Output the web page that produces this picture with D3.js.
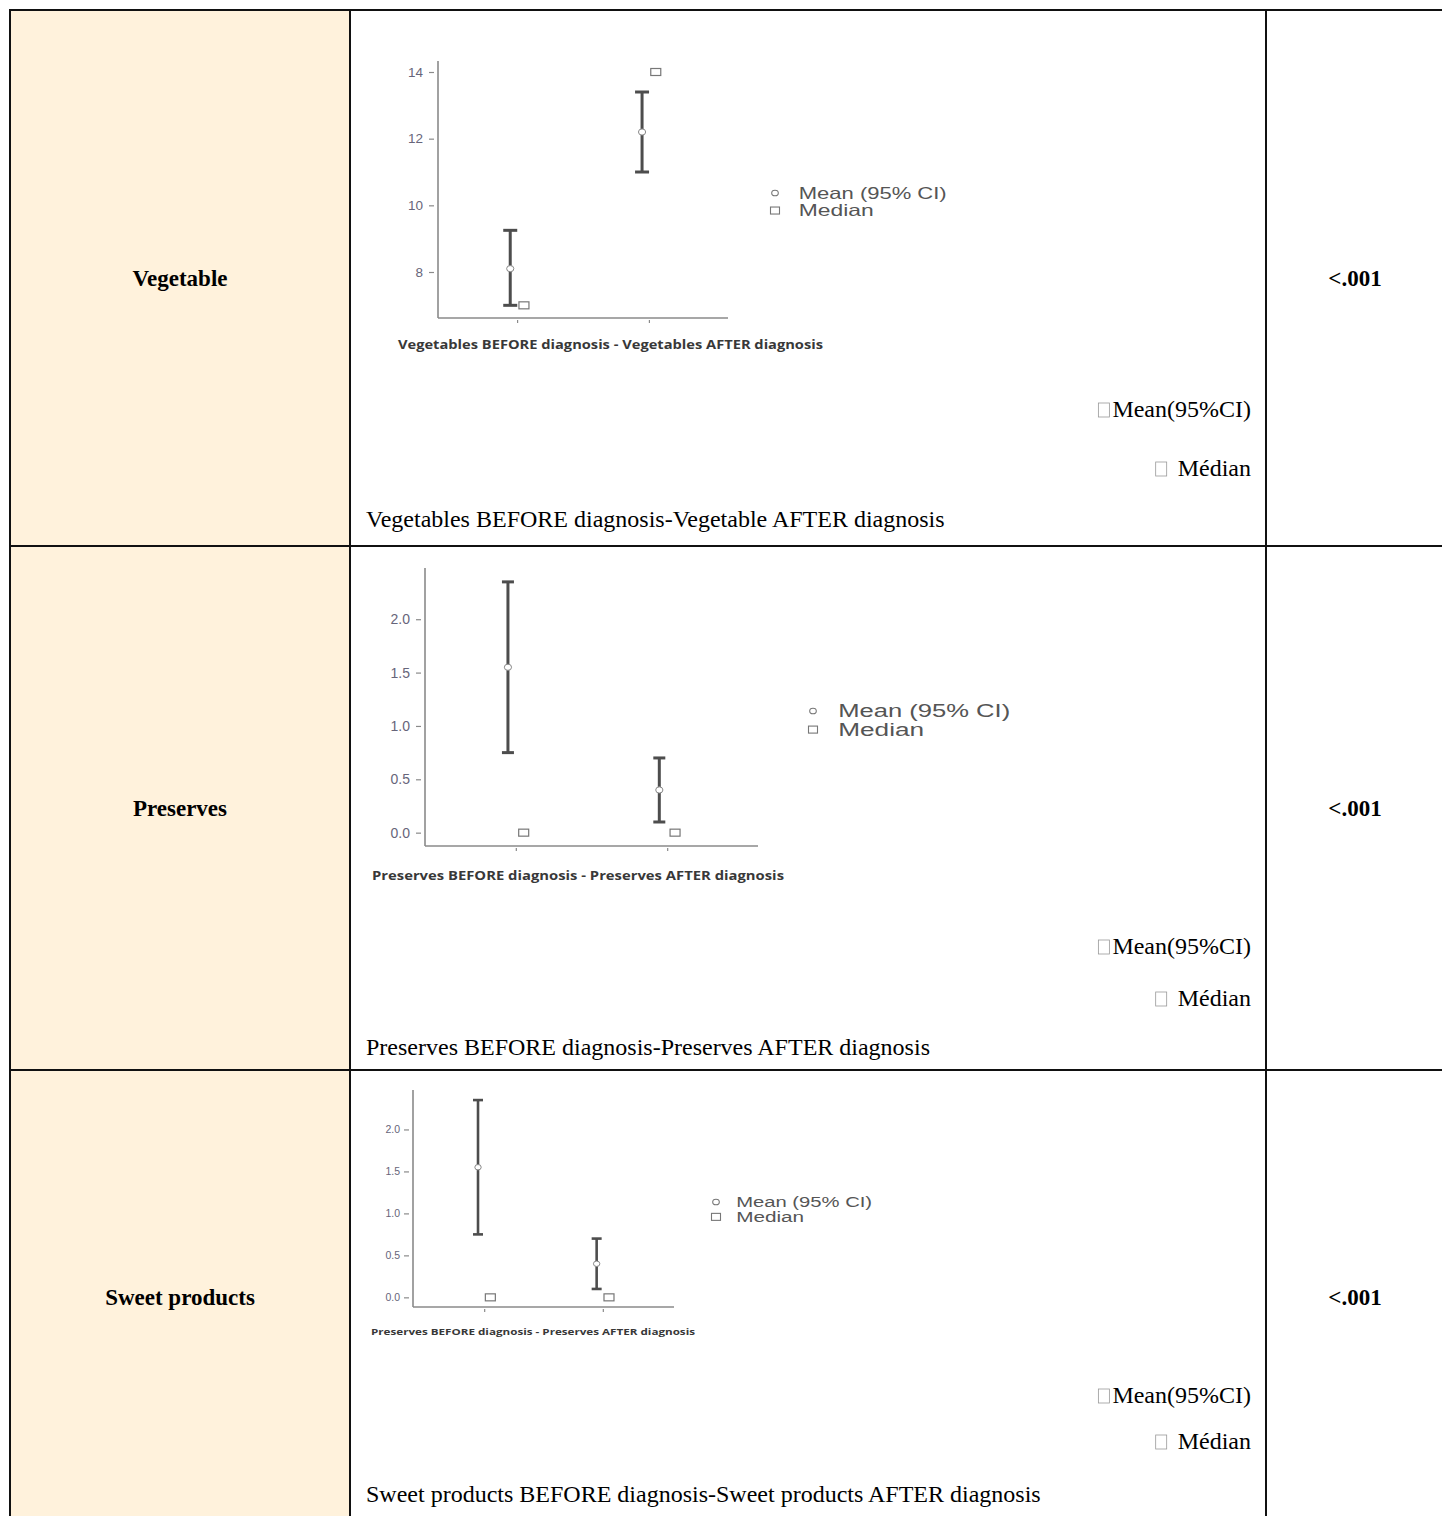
<!DOCTYPE html>
<html><head><meta charset="utf-8">
<script src="https://cdn.jsdelivr.net/npm/d3@7/dist/d3.min.js"></script>
<style>html,body{margin:0;padding:0;background:#fff;}svg{display:block;}</style>
</head><body>
<script>
// ---------- DATA ----------
const categories = ["Vegetable", "Preserves", "Sweet products"];
const pValues = ["<.001", "<.001", "<.001"];
const groups = ["BEFORE diagnosis", "AFTER diagnosis"];

const vegMean = [8.1, 12.2];
const vegLow = [7.0, 11.0];
const vegHigh = [9.25, 13.4];
const vegMedian = [7.0, 14.0];
const vegTicks = [8, 10, 12, 14];

const presMean = [1.55, 0.40];
const presLow = [0.75, 0.10];
const presHigh = [2.35, 0.70];
const presMedian = [0.0, 0.0];
const presTicks = [0, 0.5, 1.0, 1.5, 2.0];

const sweetMean = [1.55, 0.40];
const sweetLow = [0.75, 0.10];
const sweetHigh = [2.35, 0.70];
const sweetMedian = [0.0, 0.0];
const sweetTicks = [0, 0.5, 1.0, 1.5, 2.0];

const chartAxisTitles = [
  "Vegetables BEFORE diagnosis - Vegetables AFTER diagnosis",
  "Preserves BEFORE diagnosis - Preserves AFTER diagnosis",
  "Preserves BEFORE diagnosis - Preserves AFTER diagnosis"
];
const legendLabels = ["Mean (95% CI)", "Median"];
const cellLegend = ["Mean(95%CI)", "Médian"];
const captions = [
  "Vegetables BEFORE diagnosis-Vegetable AFTER diagnosis",
  "Preserves BEFORE diagnosis-Preserves AFTER diagnosis",
  "Sweet products BEFORE diagnosis-Sweet products AFTER diagnosis"
];

// ---------- LAYOUT ----------
const W = 1442, H = 1516;
const svg = d3.select("body").append("svg").attr("width", W).attr("height", H);
svg.append("rect").attr("width", W).attr("height", H).attr("fill", "#fff");

const colX = [10, 350, 1266, W];
const rowY = [10, 546, 1070, H];

svg.append("rect").attr("x", colX[0]).attr("y", rowY[0]).attr("width", colX[1] - colX[0])
  .attr("height", H - rowY[0]).attr("fill", "#fff2dc");

const grid = svg.append("g").attr("stroke", "#111").attr("stroke-width", 2);
[rowY[0], rowY[1], rowY[2]].forEach(y => grid.append("line").attr("x1", 9).attr("x2", W).attr("y1", y).attr("y2", y));
[colX[0], colX[1], colX[2]].forEach(x => grid.append("line").attr("x1", x).attr("x2", x).attr("y1", 9).attr("y2", H));

const serif = "Liberation Serif, Times New Roman, serif";
const labelBase = [286, 816, 1305];
categories.forEach((c, i) => {
  svg.append("text").attr("x", 180).attr("y", labelBase[i]).attr("text-anchor", "middle")
    .attr("font-family", serif).attr("font-weight", "bold")
    .attr("font-size", 23).attr("fill", "#000").text(c);
  svg.append("text").attr("x", 1355).attr("y", labelBase[i]).attr("text-anchor", "middle")
    .attr("font-family", serif).attr("font-weight", "bold")
    .attr("font-size", 23).attr("fill", "#000").text(pValues[i]);
});

const cellRows = [
  {mean: 417, med: 476, cap: 527},
  {mean: 954, med: 1006, cap: 1055},
  {mean: 1403, med: 1449, cap: 1502}
];
cellRows.forEach((r, i) => {
  const t1 = svg.append("text").attr("x", 1251).attr("y", r.mean).attr("text-anchor", "end")
    .attr("font-family", serif).attr("font-size", 24).attr("fill", "#000").text(cellLegend[0]);
  const w1 = t1.node().getComputedTextLength();
  svg.append("rect").attr("x", 1251 - w1 - 14).attr("y", r.mean - 14).attr("width", 11).attr("height", 14)
    .attr("fill", "none").attr("stroke", "#999").attr("stroke-width", 0.8);
  const t2 = svg.append("text").attr("x", 1251).attr("y", r.med).attr("text-anchor", "end")
    .attr("font-family", serif).attr("font-size", 24).attr("fill", "#000").text(cellLegend[1]);
  const w2 = t2.node().getComputedTextLength();
  svg.append("rect").attr("x", 1251 - w2 - 22).attr("y", r.med - 14).attr("width", 11).attr("height", 14)
    .attr("fill", "none").attr("stroke", "#999").attr("stroke-width", 0.8);
  svg.append("text").attr("x", 366).attr("y", r.cap).attr("font-family", serif)
    .attr("font-size", 24).attr("fill", "#000").text(captions[i]);
});

// ---------- CHARTS ----------
const charts = [
  {mean: vegMean, low: vegLow, high: vegHigh, median: vegMedian, ticks: vegTicks, fmt: d3.format("d"),
   x0: 438, x1: 728, yTop: 61, yBot: 318, domain: [6.62, 14.33], tickFont: 13.5, tickPad: 9, capW: 14, barW: 3,
   legX: 775, legY: 193, legFont: 16.5, legLen: 148, legLen2: 75, title: chartAxisTitles[0], titleY: 349, titleX: 398, titleLen: 425, titleFont: 11.5, mr: 3.6},
  {mean: presMean, low: presLow, high: presHigh, median: presMedian, ticks: presTicks, fmt: d3.format(".1f"),
   x0: 425, x1: 758, yTop: 568, yBot: 846, domain: [-0.125, 2.48], tickFont: 14, tickPad: 9, capW: 12, barW: 3,
   legX: 813, legY: 711, legFont: 17.5, legLen: 172, legLen2: 86, title: chartAxisTitles[1], titleY: 880, titleX: 372, titleLen: 412, titleFont: 11.5, mr: 3.6},
  {mean: sweetMean, low: sweetLow, high: sweetHigh, median: sweetMedian, ticks: sweetTicks, fmt: d3.format(".1f"),
   x0: 413, x1: 674, yTop: 1090, yBot: 1307, domain: [-0.115, 2.47], tickFont: 10.5, tickPad: 7, capW: 10, barW: 2.6,
   legX: 716, legY: 1202, legFont: 14, legLen: 136, legLen2: 68, title: chartAxisTitles[2], titleY: 1335, titleX: 371, titleLen: 324, titleFont: 9.5, mr: 3.2}
];

const sans = "Liberation Sans, Arial, sans-serif";
charts.forEach(c => {
  const g = svg.append("g");
  const y = d3.scaleLinear().domain(c.domain).range([c.yBot, c.yTop]);
  const x = d3.scalePoint().domain(groups).range([c.x0, c.x1]).padding(0.6);
  const off = x.step() * 0.052;

  const yAxis = d3.axisLeft(y).tickValues(c.ticks).tickFormat(c.fmt).tickSize(6).tickPadding(c.tickPad);
  const ya = g.append("g").attr("transform", `translate(${c.x0},0)`).call(yAxis);
  ya.select(".domain").attr("stroke", "#8a8a8a").attr("stroke-width", 1.6).attr("d", `M0,${c.yTop}V${c.yBot}`);
  ya.selectAll(".tick line").attr("stroke", "#8a8a8a").attr("stroke-width", 1.2).attr("x2", -4).attr("x1", -9);
  ya.selectAll(".tick text").attr("font-family", sans).attr("font-size", c.tickFont).attr("fill", "#67657a");

  const xAxis = d3.axisBottom(x).tickSize(4).tickFormat("");
  const xa = g.append("g").attr("transform", `translate(0,${c.yBot})`).call(xAxis);
  xa.select(".domain").attr("stroke", "#8a8a8a").attr("stroke-width", 1.6).attr("d", `M${c.x0},0H${c.x1}`);
  xa.selectAll(".tick line").attr("stroke", "#8a8a8a").attr("stroke-width", 1.2).attr("y1", 2).attr("y2", 5);

  groups.forEach((gname, i) => {
    const bx = x(gname) - off;
    const col = "#4d4d4d";
    g.append("line").attr("x1", bx).attr("x2", bx).attr("y1", y(c.low[i])).attr("y2", y(c.high[i]))
      .attr("stroke", col).attr("stroke-width", c.barW);
    [c.low[i], c.high[i]].forEach(v => g.append("line").attr("x1", bx - c.capW / 2).attr("x2", bx + c.capW / 2)
      .attr("y1", y(v)).attr("y2", y(v)).attr("stroke", col).attr("stroke-width", c.barW));
    g.append("ellipse").attr("cx", bx).attr("cy", y(c.mean[i])).attr("rx", c.mr).attr("ry", c.mr - 0.5)
      .attr("fill", "#fff").attr("stroke", "#888").attr("stroke-width", 1);
    const mx = x(gname) + off;
    g.append("rect").attr("x", mx - 5).attr("y", y(c.median[i]) - 3.5).attr("width", 10).attr("height", 7)
      .attr("fill", "#fff").attr("stroke", "#777").attr("stroke-width", 1.2);
  });

  g.append("ellipse").attr("cx", c.legX).attr("cy", c.legY).attr("rx", 3.3).attr("ry", 2.8)
    .attr("fill", "#fff").attr("stroke", "#777").attr("stroke-width", 1.1);
  g.append("rect").attr("x", c.legX - 4.5).attr("y", c.legY + 17 * c.legFont / 16 - 3.5).attr("width", 9).attr("height", 7)
    .attr("fill", "#fff").attr("stroke", "#777").attr("stroke-width", 1.1);
  const tx = c.legX + 23 * c.legFont / 16;
  g.append("text").attr("x", tx).attr("y", c.legY + c.legFont * 0.36).attr("font-family", sans)
    .attr("font-size", c.legFont).attr("fill", "#555").attr("textLength", c.legLen).attr("lengthAdjust", "spacingAndGlyphs")
    .text(legendLabels[0]);
  g.append("text").attr("x", tx).attr("y", c.legY + 17 * c.legFont / 16 + c.legFont * 0.36).attr("font-family", sans)
    .attr("font-size", c.legFont).attr("fill", "#555").attr("textLength", c.legLen2).attr("lengthAdjust", "spacingAndGlyphs")
    .text(legendLabels[1]);

  g.append("text").attr("x", c.titleX).attr("y", c.titleY).attr("font-family", "Open Sans, Liberation Sans, sans-serif")
    .attr("font-weight", "bold").attr("font-size", c.titleFont).attr("fill", "#383838")
    .attr("textLength", c.titleLen).attr("lengthAdjust", "spacingAndGlyphs").text(c.title);
});
</script>
</body></html>
